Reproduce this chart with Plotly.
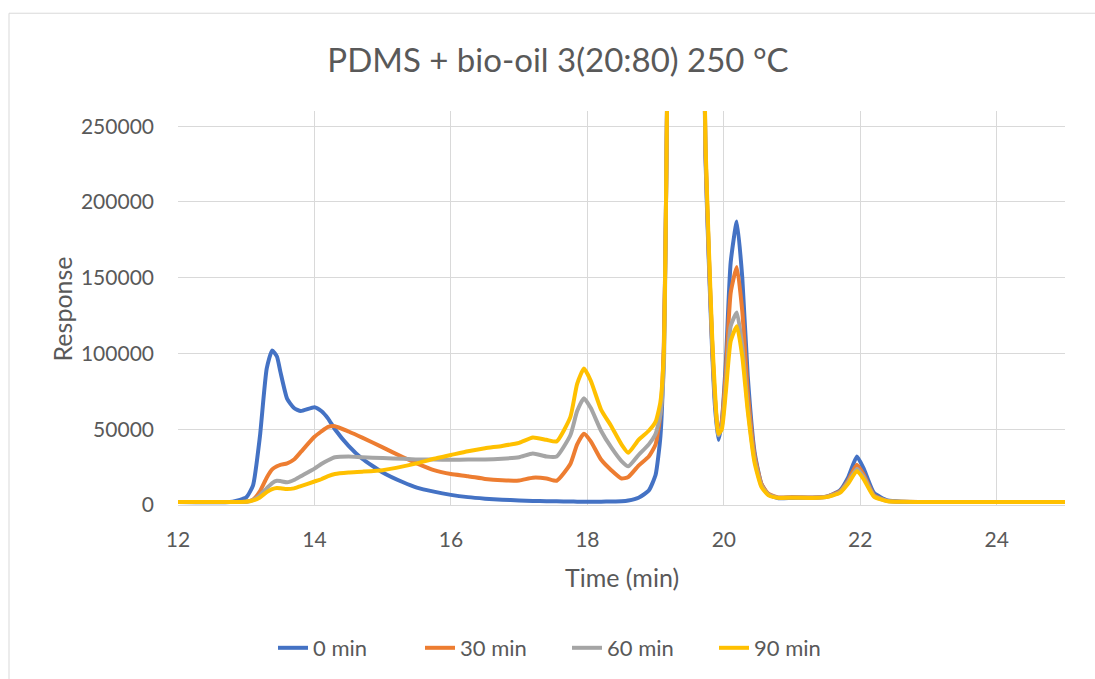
import plotly.graph_objects as go

time_min = [12.0, 12.8, 13.0, 13.1, 13.2, 13.3, 13.38, 13.45, 13.5, 13.6, 13.7, 13.8, 14.0, 14.1, 14.2, 14.3,
            14.5, 14.7, 15.0, 15.3, 15.5, 15.75, 16.0, 16.25, 16.5, 16.75, 17.0, 17.2, 17.4, 17.55, 17.75,
            17.85, 17.95, 18.05, 18.2, 18.35, 18.5, 18.6, 18.75, 18.9, 19.0, 19.07, 19.12, 19.15, 19.2, 19.45,
            19.7, 19.73, 19.78, 19.83, 19.87, 19.92, 19.97, 20.03, 20.1, 20.19, 20.27, 20.35, 20.45, 20.55,
            20.65, 20.8, 21.0, 21.3, 21.5, 21.7, 21.82, 21.95, 22.05, 22.2, 22.4, 22.6, 23.0, 24.0, 25.0]

resp_0 = [2000, 2200, 5000, 13000, 45000, 90000, 102000, 98000, 88000, 70000, 64000, 62000, 64500, 62000, 57000, 50000,
          39000, 30500, 21500, 15000, 11500, 8800, 6700, 5200, 4200, 3500, 3000, 2700, 2500, 2400, 2300,
          2200, 2200, 2200, 2200, 2300, 2500, 3000, 4800, 9500, 20000, 45000, 100000, 190000, 400000, 1200000,
          350000, 230000, 160000, 100000, 65000, 43000, 55000, 95000, 160000, 187000, 150000, 85000, 35000, 14000,
          7000, 4500, 4700, 4800, 5500, 9500, 18000, 32000, 24000, 8000, 3000, 2200, 2000, 2000, 2000]

resp_30 = [2000, 2000, 2200, 3500, 9000, 18000, 23500, 25500, 26500, 27500, 30000, 35000, 45000, 48500, 51500, 52000,
           48500, 44500, 38000, 31500, 27500, 23000, 20400, 19000, 17200, 16300, 16200, 18000, 17500, 16000, 27000,
           40000, 47000, 42000, 30000, 23000, 17500, 18500, 26000, 32000, 40000, 60000, 105000, 190000, 400000, 1200000,
           350000, 235000, 165000, 105000, 70000, 46000, 55000, 88000, 140000, 157000, 128000, 75000, 33000, 14000,
           7500, 5000, 5200, 5000, 5500, 9000, 16000, 26500, 20000, 6500, 2700, 2100, 2000, 2000, 2000]

resp_60 = [2000, 2000, 2200, 3200, 6500, 11000, 14500, 16000, 15800, 15000, 16500, 19000, 24000, 27000, 29500, 31500,
           32000, 31500, 31000, 30500, 30000, 30000, 29800, 30000, 30000, 30500, 31500, 34000, 32000, 32000, 46000,
           62000, 70500, 64000, 49000, 38000, 29000, 25500, 33000, 40000, 47000, 60000, 90000, 190000, 400000, 1200000,
           350000, 235000, 165000, 105000, 70000, 46000, 52000, 80000, 118000, 127000, 105000, 65000, 30000, 13000,
           7000, 4800, 5000, 4800, 5300, 8500, 15000, 24000, 18500, 6000, 2600, 2100, 2000, 2000, 2000]

resp_90 = [2000, 2000, 2100, 3000, 5000, 8500, 10500, 11200, 11000, 10500, 11000, 12500, 15500, 17000, 19000, 20500,
           21500, 22000, 23000, 25500, 27500, 30500, 33000, 35500, 37500, 39000, 41000, 44500, 43000, 42000, 58000,
           80000, 90000, 82000, 63000, 52000, 40000, 34500, 43000, 49000, 55000, 68000, 100000, 190000, 400000, 1200000,
           350000, 240000, 170000, 110000, 75000, 47000, 50000, 75000, 108000, 118000, 98000, 62000, 28000, 12000,
           6500, 4700, 4800, 4700, 5200, 8000, 14000, 22500, 17000, 5500, 2500, 2100, 2000, 2000, 2000]

series_names = ["0 min", "30 min", "60 min", "90 min"]
series_values = [resp_0, resp_30, resp_60, resp_90]
colors = ["#4472C4", "#ED7D31", "#A5A5A5", "#FFC000"]

fig = go.Figure()
for name, vals, col in zip(series_names, series_values, colors):
    fig.add_trace(go.Scatter(x=time_min, y=vals, mode="lines", name=name,
                             line=dict(color=col, width=4, shape="spline", smoothing=0.5)))

FONT = "Lato"
TXT = "#595959"
GRID = "#D9D9D9"

L, R, T, B = 178, 30, 111, 173
W, H = 1095, 679
pw, ph = W - L - R, H - T - B

fig.update_layout(
    width=W, height=H,
    margin=dict(l=L, r=R, t=T, b=B),
    paper_bgcolor="white", plot_bgcolor="white",
    font=dict(family=FONT, color=TXT, size=21),
    title=dict(text="PDMS + bio-oil 3(20:80) 250 °C", x=558 / W, xanchor="center",
               y=1 - 60 / H, yanchor="middle", font=dict(size=33, color=TXT, family=FONT)),
    showlegend=True,
    legend=dict(orientation="h", x=(273 - L) / pw, xanchor="left", y=(506 - 648) / ph, yanchor="middle",
                font=dict(size=22, color=TXT), entrywidth=102, entrywidthmode="pixels", tracegroupgap=0),
    xaxis=dict(range=[12, 25], tick0=12, dtick=2, showgrid=True, gridcolor=GRID, gridwidth=1,
               showline=True, linecolor=GRID, linewidth=1, zeroline=False, ticks="",
               ticklabelstandoff=16, tickfont=dict(size=21, color=TXT)),
    yaxis=dict(range=[0, 260000], tick0=0, dtick=50000, showgrid=True, gridcolor=GRID, gridwidth=1,
               showline=False, zeroline=False, ticks="", tickformat="d",
               ticklabelstandoff=23, tickfont=dict(size=21, color=TXT)),
    annotations=[
        dict(text="Response", x=(62 - L) / pw, y=(506 - 310) / ph, xref="paper", yref="paper", showarrow=False,
             textangle=-90, font=dict(size=25, color=TXT), xanchor="center", yanchor="middle"),
        dict(text="Time (min)", x=0.5, y=(506 - 578) / ph, xref="paper", yref="paper", showarrow=False,
             font=dict(size=25, color=TXT), xanchor="center", yanchor="middle"),
    ],
    shapes=[dict(type="rect", xref="paper", yref="paper",
                 x0=(9 - L) / pw, x1=(1110 - L) / pw, y0=(506 - 700) / ph, y1=(506 - 13) / ph,
                 line=dict(color=GRID, width=1), fillcolor="rgba(0,0,0,0)", layer="below")],
)

fig.write_html("out.html")
